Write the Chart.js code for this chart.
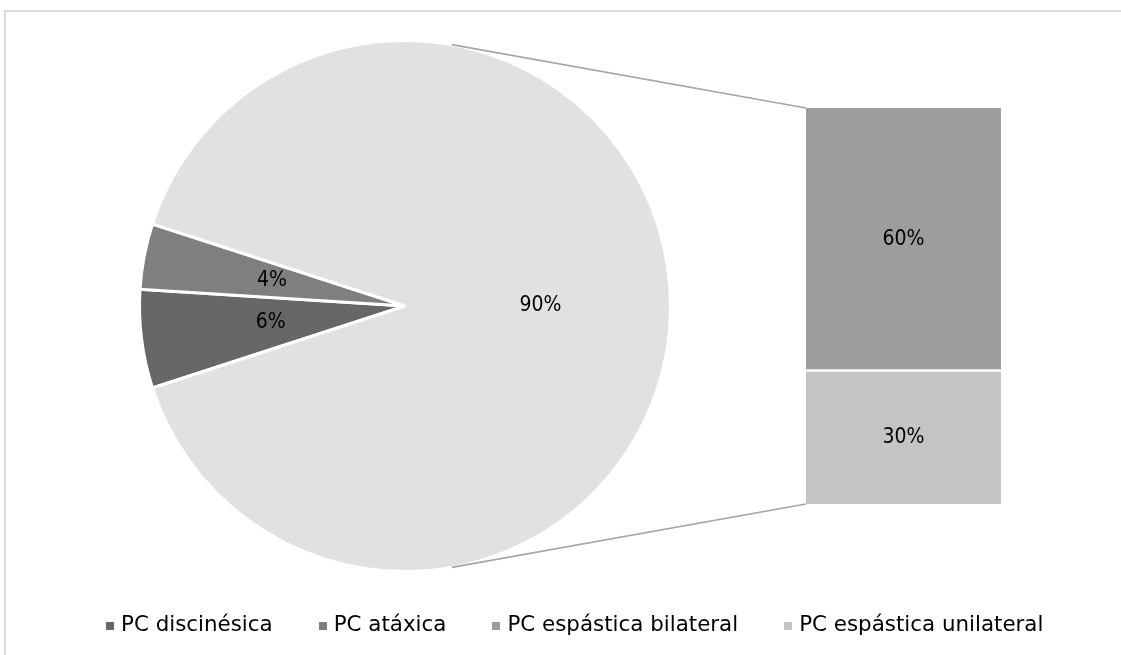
<!DOCTYPE html>
<html>
<head>
<meta charset="utf-8">
<script src="https://cdn.jsdelivr.net/npm/chart.js@4.4.1/dist/chart.umd.min.js"></script>
<style>
    body { margin: 0; background: #ffffff; }
    #wrap { position: relative; width: 1121px; height: 655px; overflow: hidden; }
    #frame { position: absolute; left: 4px; top: 10px; width: 1300px; height: 800px;
             border-top: 2px solid #dadada; border-left: 2px solid #dadada; }
    canvas { position: absolute; left: 0; top: 0; }
    #legend { position: absolute; left: 106px; top: 612px; height: 24px; line-height: 24px;
              display: flex; align-items: center; white-space: nowrap;
              font-family: "DejaVu Sans", sans-serif; font-size: 21.4px; color: #000; }
    #legend .item { display: flex; align-items: center; margin-right: 46px; }
    #legend .box { width: 8px; height: 8px; margin-right: 7px; position: relative; top: 2px; }
</style>
</head>
<body>
<div id="wrap">
    <div id="frame"></div>
    <canvas id="pieChart" width="1121" height="655"></canvas>
    <canvas id="barChart" width="1121" height="655"></canvas>
    <div id="legend"></div>
</div>
<script>
// Pie part: the two small types plus the combined spastic slice
const pieLabels = ['PC discinésica', 'PC atáxica', 'PC espástica'];
const pieValues = [6, 4, 90];
const pieColors = ['#676767', '#7f7f7f', '#e1e1e1'];

// Bar part: breakdown of the spastic slice
const barLabels = ['PC espástica bilateral', 'PC espástica unilateral'];
const barValues = [60, 30];
const barColors = ['#9d9d9d', '#c4c4c4'];

// Legend entries (order as in the reference)
const legendLabels = ['PC discinésica', 'PC atáxica', 'PC espástica bilateral', 'PC espástica unilateral'];
const legendColors = ['#676767', '#7f7f7f', '#9d9d9d', '#c4c4c4'];

const labelFont = '21px "DejaVu Sans Condensed", "DejaVu Sans", sans-serif';

// Draw "n%" labels inside the pie slices
const pieLabelPlugin = {
    id: 'pieLabels',
    afterDatasetsDraw: function(chart) {
        const ctx = chart.ctx;
        const meta = chart.getDatasetMeta(0);
        ctx.save();
        ctx.font = labelFont;
        ctx.fillStyle = '#000000';
        ctx.textAlign = 'center';
        ctx.textBaseline = 'middle';
        meta.data.forEach((arc, i) => {
            const mid = (arc.startAngle + arc.endAngle) / 2;
            const r = arc.outerRadius * 0.51;
            ctx.fillText(pieValues[i] + '%', arc.x + Math.cos(mid) * r, arc.y + Math.sin(mid) * r);
        });
        ctx.restore();
    }
};

// Labels in the bar segments and the connector lines to the pie
const barExtrasPlugin = {
    id: 'barExtras',
    afterDatasetsDraw: function(chart) {
        const ctx = chart.ctx;
        ctx.save();
        ctx.font = labelFont;
        ctx.fillStyle = '#000000';
        ctx.textAlign = 'center';
        ctx.textBaseline = 'middle';
        chart.data.datasets.forEach((ds, di) => {
            const bar = chart.getDatasetMeta(di).data[0];
            ctx.fillText(ds.data[0] + '%', bar.x, (bar.y + bar.base) / 2);
        });

        // connectors: tangent lines from bar corners to the pie circle
        const arc = pieChart.getDatasetMeta(0).data[0];
        const cx = arc.x, cy = arc.y, rad = arc.outerRadius;
        const topBar = chart.getDatasetMeta(1).data[0];
        const bottomBar = chart.getDatasetMeta(0).data[0];
        const corners = [
            { x: topBar.x - topBar.width / 2, y: topBar.y, sign: -1 },
            { x: bottomBar.x - bottomBar.width / 2, y: bottomBar.base, sign: 1 }
        ];
        ctx.strokeStyle = '#a6a6a6';
        ctx.lineWidth = 1.6;
        corners.forEach(c => {
            const dx = c.x - cx, dy = c.y - cy;
            const d = Math.sqrt(dx * dx + dy * dy);
            const phi = Math.atan2(dy, dx);
            const a = phi + c.sign * Math.acos(rad / d);
            ctx.beginPath();
            ctx.moveTo(cx + Math.cos(a) * rad, cy + Math.sin(a) * rad);
            ctx.lineTo(c.x, c.y);
            ctx.stroke();
        });
        ctx.restore();
    }
};

const pieChart = new Chart(document.getElementById('pieChart').getContext('2d'), {
    type: 'pie',
    data: {
        labels: pieLabels,
        datasets: [{
            data: pieValues,
            backgroundColor: pieColors,
            borderColor: '#ffffff',
            borderWidth: 3,
            hoverOffset: 0
        }]
    },
    options: {
        responsive: false,
        animation: false,
        rotation: 252,
        layout: { padding: { left: 138, right: 449, top: 39, bottom: 82 } },
        plugins: { legend: { display: false }, tooltip: { enabled: false } }
    },
    plugins: [pieLabelPlugin]
});

const barChart = new Chart(document.getElementById('barChart').getContext('2d'), {
    type: 'bar',
    data: {
        labels: [''],
        datasets: [
            {
                label: barLabels[1],
                data: [barValues[1]],
                backgroundColor: barColors[1],
                borderWidth: 0
            },
            {
                label: barLabels[0],
                data: [barValues[0]],
                backgroundColor: barColors[0],
                borderColor: '#ffffff',
                borderWidth: { top: 0, right: 0, bottom: 3, left: 0 },
                borderSkipped: false
            }
        ]
    },
    options: {
        responsive: false,
        animation: false,
        barPercentage: 1,
        categoryPercentage: 1,
        layout: { padding: { left: 806, right: 120, top: 108, bottom: 151 } },
        scales: {
            x: { stacked: true, display: false },
            y: { stacked: true, display: false, min: 0, max: barValues[0] + barValues[1] }
        },
        plugins: { legend: { display: false }, tooltip: { enabled: false } }
    },
    plugins: [barExtrasPlugin]
});

// HTML legend
const legendEl = document.getElementById('legend');
legendLabels.forEach((text, i) => {
    const item = document.createElement('div');
    item.className = 'item';
    const box = document.createElement('span');
    box.className = 'box';
    box.style.background = legendColors[i];
    const label = document.createElement('span');
    label.textContent = text;
    item.appendChild(box);
    item.appendChild(label);
    legendEl.appendChild(item);
});
</script>
</body>
</html>
